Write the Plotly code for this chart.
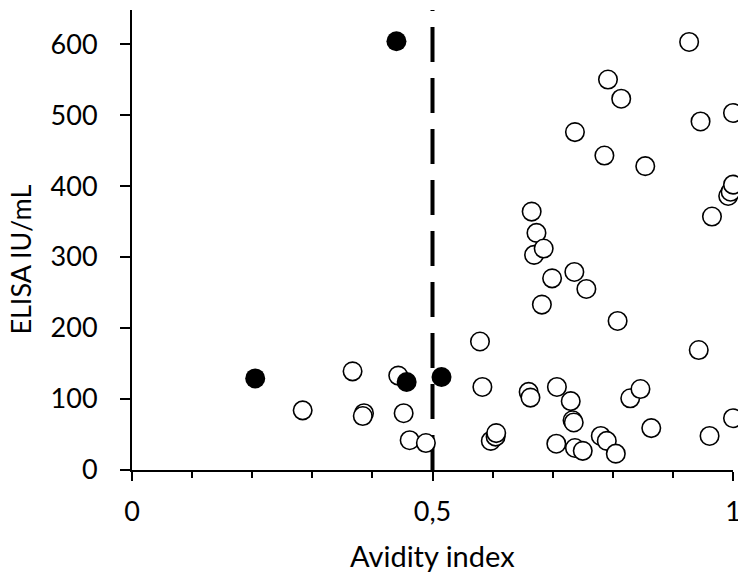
import plotly.graph_objects as go

# Open circles (avidity index, ELISA IU/mL)
open_x = [0.284, 0.367, 0.386, 0.384, 0.443, 0.452, 0.462, 0.489,
          0.579, 0.583, 0.597, 0.605, 0.606, 0.660, 0.663, 0.665, 0.673,
          0.669, 0.685, 0.682, 0.699, 0.706, 0.707, 0.730, 0.733, 0.735,
          0.737, 0.736, 0.737, 0.750, 0.756, 0.780, 0.786, 0.790, 0.792,
          0.805, 0.808, 0.814, 0.829, 0.846, 0.854, 0.864, 0.927, 0.943,
          0.946, 0.961, 0.965, 0.992, 0.996, 1.000, 1.000, 1.000]
open_y = [84, 139, 80, 76, 133, 80, 42, 38,
          181, 117, 41, 47, 52, 110, 102, 364, 334,
          303, 312, 233, 270, 37, 117, 97, 70, 67,
          31, 279, 476, 27, 255, 48, 443, 41, 550,
          23, 210, 523, 101, 114, 428, 59, 603, 169,
          491, 48, 357, 386, 392, 402, 503, 73]

# Filled circles
filled_x = [0.440, 0.205, 0.457, 0.515]
filled_y = [604, 129, 124, 131]

cutoff = 0.5
x_ticks = [0, 0.5, 1]
x_ticklabels = ["0", "0,5", "1"]
y_ticks = [0, 100, 200, 300, 400, 500, 600]

FONT = "Lato"
fig = go.Figure()
fig.add_trace(go.Scatter(
    x=open_x, y=open_y, mode="markers", cliponaxis=False,
    marker=dict(size=18.5, color="white", line=dict(color="black", width=1.6)),
    showlegend=False))
fig.add_trace(go.Scatter(
    x=filled_x, y=filled_y, mode="markers", cliponaxis=False,
    marker=dict(size=20, color="black", line=dict(color="black", width=0)),
    showlegend=False))

fig.add_shape(type="line", xref="x", yref="y", x0=cutoff, x1=cutoff, y0=0, y1=648,
              line=dict(color="black", width=4, dash="35px,16px"), layer="below")

fig.add_annotation(text="Avidity index", xref="paper", yref="paper", x=0.5, y=-0.185,
                   xanchor="center", yanchor="middle", showarrow=False,
                   font=dict(family=FONT, size=29, color="black"))
fig.add_annotation(text="ELISA IU/mL", xref="paper", yref="paper", x=-0.185, y=0.457,
                   xanchor="center", yanchor="middle", showarrow=False, textangle=-90,
                   font=dict(family=FONT, size=27, color="black"))

fig.update_layout(
    width=738, height=572,
    margin=dict(l=132, r=5, t=10, b=102, autoexpand=False),
    paper_bgcolor="white", plot_bgcolor="white",
    font=dict(family=FONT, size=27, color="black"),
    xaxis=dict(range=[0, 1], tickvals=x_ticks, ticktext=x_ticklabels,
               ticks="outside", ticklen=9, tickwidth=2, tickcolor="black",
               showline=True, linecolor="black", linewidth=2, automargin=False,
               showgrid=False, zeroline=False, ticklabelstandoff=8,
               ticklabeloverflow="allow",
               minor=dict(dtick=0.1, ticks="outside", ticklen=6, tickwidth=2,
                          tickcolor="black", showgrid=False)),
    yaxis=dict(range=[0, 648], tickvals=y_ticks, automargin=False,
               ticks="outside", ticklen=10, tickwidth=2, tickcolor="black",
               showline=True, linecolor="black", linewidth=2,
               showgrid=False, zeroline=False, ticklabelstandoff=17),
)
fig.write_html("out.html")
